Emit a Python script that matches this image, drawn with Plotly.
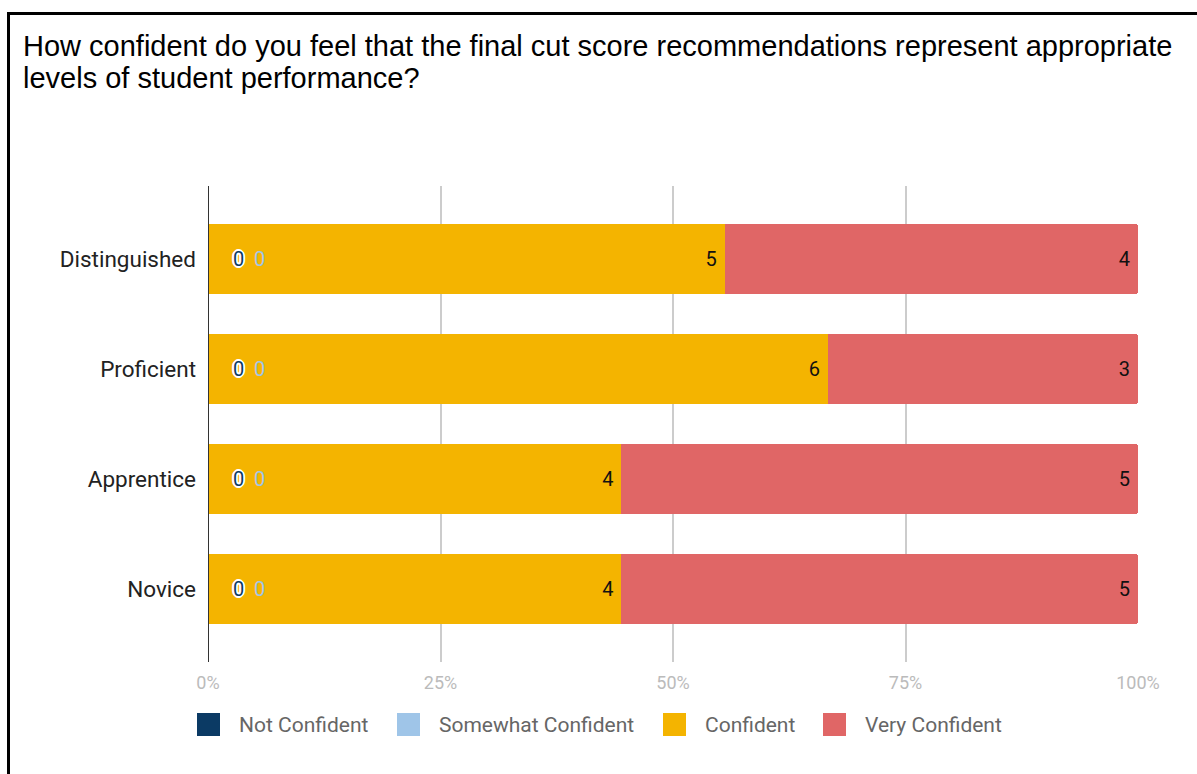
import plotly.graph_objects as go

# Survey responses (counts) per performance level
levels = ["Distinguished", "Proficient", "Apprentice", "Novice"]
not_confident = [0, 0, 0, 0]
somewhat_confident = [0, 0, 0, 0]
confident = [5, 6, 4, 4]
very_confident = [4, 3, 5, 5]

series_names = ["Not Confident", "Somewhat Confident", "Confident", "Very Confident"]
series_colors = ["#0b3a64", "#9fc5e8", "#f4b400", "#e06666"]
series_values = [not_confident, somewhat_confident, confident, very_confident]

x_ticks = [0, 25, 50, 75, 100]
x_tick_labels = ["0%", "25%", "50%", "75%", "100%"]

title_lines = [
    "How confident do you feel that the final cut score recommendations represent appropriate",
    "levels of student performance?",
]

W, H = 1197, 774
L, R, T, B = 208, 59, 186, 112
pw, ph = W - L - R, H - T - B


def px_x(p):
    return (p - L) / pw


def px_y(p):
    return (H - B - p) / ph


fig = go.Figure()

for name, color, vals in zip(series_names, series_colors, series_values):
    fig.add_trace(go.Bar(
        y=levels, x=vals, name=name, orientation="h",
        marker=dict(color=color, line=dict(width=0)),
        text=[(str(v) + "\u00a0") if v else "" for v in vals],
        textposition="inside", insidetextanchor="end",
        textfont=dict(family="Roboto", size=20, color="#111111"),
        showlegend=False, hoverinfo="skip",
    ))

# Labels for zero-width segments placed just right of the axis
halo = ("1px 1px 0 #fff, -1px -1px 0 #fff, 1px -1px 0 #fff, -1px 1px 0 #fff, "
        "0 2px 0 #fff, 0 -2px 0 #fff, 2px 0 0 #fff, -2px 0 0 #fff")
annotations = []
for lvl, v_nc, v_sc in zip(levels, not_confident, somewhat_confident):
    annotations.append(dict(
        x=0, y=lvl, xref="x", yref="y", text=str(v_nc), showarrow=False,
        xanchor="center", yanchor="middle", xshift=30,
        font=dict(family="Roboto", size=20, color="#0b3a64", shadow=halo),
    ))
    annotations.append(dict(
        x=0, y=lvl, xref="x", yref="y", text=str(v_sc), showarrow=False,
        xanchor="center", yanchor="middle", xshift=51,
        font=dict(family="Roboto", size=20, color="#9fc5e8"),
    ))

# Title, one annotation per line for tighter line spacing
for i, line in enumerate(title_lines):
    annotations.append(dict(
        x=px_x(21), y=px_y(46 + 32 * i), xref="paper", yref="paper", text=line,
        showarrow=False, xanchor="left", yanchor="middle", align="left",
        font=dict(family="Liberation Sans, Arial", size=29, color="#000000"),
    ))

# Legend row: swatch + label for each series
shapes = []
legend_left = [197, 397, 663, 823]
legend_cy = 724.5
sw = 23
for name, color, lx in zip(series_names, series_colors, legend_left):
    shapes.append(dict(
        type="rect", xref="paper", yref="paper",
        x0=px_x(lx), x1=px_x(lx + sw),
        y0=px_y(legend_cy - sw / 2), y1=px_y(legend_cy + sw / 2),
        line=dict(width=0), fillcolor=color,
    ))
    annotations.append(dict(
        x=px_x(lx + 40), y=px_y(legend_cy), xref="paper", yref="paper", text=name,
        showarrow=False, xanchor="left", yanchor="middle",
        font=dict(family="Roboto", size=21, color="#666666"),
    ))

# axis baseline at 0%
shapes.append(dict(type="line", xref="x", yref="paper", x0=0, x1=0, y0=0, y1=1,
                   line=dict(color="#333333", width=2), layer="above"))
# outer frame
shapes.append(dict(type="rect", xref="paper", yref="paper",
                   x0=px_x(8.5), x1=px_x(1230), y0=px_y(13.5), y1=px_y(820),
                   line=dict(color="#000000", width=3), fillcolor="rgba(0,0,0,0)"))

fig.update_layout(
    width=W, height=H,
    margin=dict(l=L, r=R, t=T, b=B, pad=0),
    barmode="stack", barnorm="percent", bargap=0.364,
    barcornerradius=3,
    plot_bgcolor="white", paper_bgcolor="white",
    annotations=annotations,
    shapes=shapes,
    showlegend=False,
    xaxis=dict(
        range=[0, 100], tickvals=x_ticks, ticktext=x_tick_labels,
        showgrid=True, gridcolor="#cccccc", gridwidth=1.5,
        zeroline=False, showline=False, ticks="",
        tickfont=dict(family="Roboto", size=18, color="#bbbbbb"),
        ticklabelstandoff=8, fixedrange=True,
    ),
    yaxis=dict(
        categoryorder="array", categoryarray=levels[::-1],
        range=[-0.664, 3.664],
        showgrid=False, zeroline=False, showline=False, ticks="",
        tickfont=dict(family="Roboto", size=22.5, color="#222222"),
        ticklabelstandoff=11, fixedrange=True,
    ),
)

fig.write_html("out.html")
